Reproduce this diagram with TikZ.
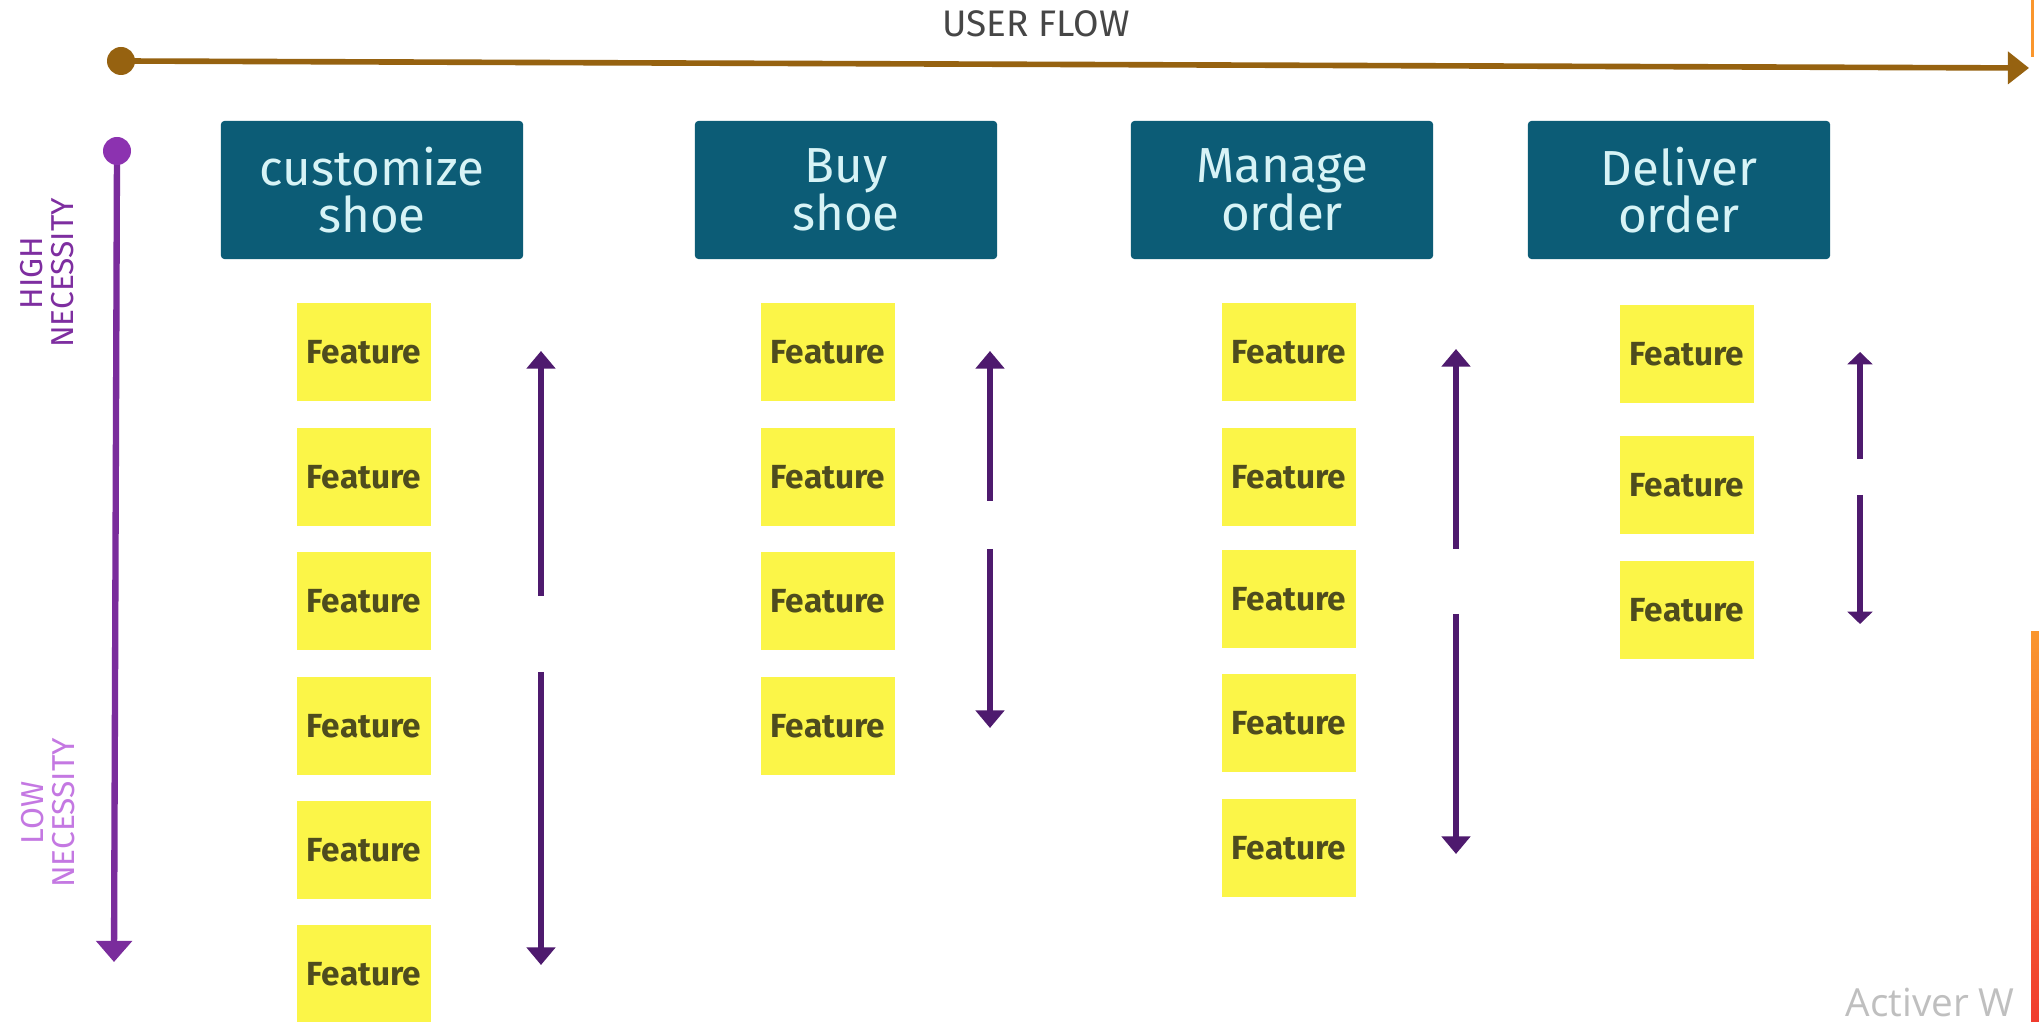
\documentclass[tikz,border=0pt]{standalone}
\usepackage{fontspec}
\setmainfont{Fira Sans}
\newfontfamily\watermarkfont{Open Sans}
\usetikzlibrary{positioning, arrows.meta}

\definecolor{flowbrown}{RGB}{150,98,16}
\definecolor{axispurple}{RGB}{122,44,156}
\definecolor{dotpurple}{RGB}{140,50,176}
\definecolor{arrowpurple}{RGB}{78,26,110}
\definecolor{headteal}{RGB}{12,92,118}
\definecolor{headtext}{RGB}{215,243,246}
\definecolor{noteyellow}{RGB}{251,245,72}
\definecolor{notetext}{RGB}{78,76,30}
\definecolor{highlabel}{RGB}{126,46,160}
\definecolor{lowlabel}{RGB}{196,120,226}
\definecolor{flowtext}{RGB}{70,70,70}
\definecolor{edgeorange}{RGB}{250,150,45}
\definecolor{edgered}{RGB}{240,60,45}

\tikzset{
  activity/.style={fill=headteal, text=headtext, minimum width=3.02cm, minimum height=1.38cm,
    align=center, inner sep=0pt, rounded corners=1pt, font=\fontsize{14}{13.5}\selectfont},
  feature/.style={fill=noteyellow, text=notetext, minimum width=1.34cm, minimum height=0.97cm,
    inner sep=0pt, font=\fontsize{9.5}{9.5}\selectfont\bfseries},
  priority/.style={draw=arrowpurple, line width=1.5pt, -{Triangle[length=5pt,width=8pt]}},
  smallpriority/.style={draw=arrowpurple, line width=1.5pt, -{Triangle[length=3.5pt,width=7pt]}},
  necessity/.style={text=#1, rotate=90, align=center, font=\fontsize{9}{9}\selectfont},
}

\begin{document}
\begin{tikzpicture}[x=0.01cm, y=-0.01cm]
  \clip (0,0) rectangle (2039,1022);
  \fill[white] (0,0) rectangle (2039,1022);

  % user flow axis
  \coordinate (flowstart) at (121,61);
  \coordinate (flowend) at (2029,68);
  \draw[flowbrown, line width=1.6pt, -{Triangle[length=6pt,width=9pt]}] (flowstart) -- (flowend);
  \fill[flowbrown] (flowstart) circle (14);
  \node[text=flowtext, font=\fontsize{10.5}{10.5}\selectfont] (flowlabel) at (1036,24) {USER FLOW};

  % necessity axis
  \coordinate (needtop) at (117,151);
  \coordinate (needbottom) at (114,962);
  \draw[axispurple, line width=1.8pt, -{Triangle[length=6pt,width=10pt]}] (needtop) -- (needbottom);
  \fill[dotpurple] (needtop) circle (14);
  \node[necessity=highlabel] (high) at (47,273) {HIGH\\NECESSITY};
  \node[necessity=lowlabel] (low) at (48,813) {LOW\\NECESSITY};

  % activities
  \node[activity] (customize) at (372,190) {customize\\shoe};
  \node[activity] (buy) at (846,190) {Buy\\shoe};
  \node[activity] (manage) at (1282,190) {Manage\\order};
  \node[activity] (deliver) at (1679,190) {Deliver\\order};

  % features
  \node[feature] (c1) at (364,352) {Feature};
  \node[feature] (c2) at (364,477) {Feature};
  \node[feature] (c3) at (364,601) {Feature};
  \node[feature] (c4) at (364,726) {Feature};
  \node[feature] (c5) at (364,850) {Feature};
  \node[feature] (c6) at (364,974) {Feature};

  \node[feature] (b1) at (828,352) {Feature};
  \node[feature] (b2) at (828,477) {Feature};
  \node[feature] (b3) at (828,601) {Feature};
  \node[feature] (b4) at (828,726) {Feature};

  \node[feature] (m1) at (1289,352) {Feature};
  \node[feature] (m2) at (1289,477) {Feature};
  \node[feature] (m3) at (1289,599) {Feature};
  \node[feature] (m4) at (1289,723) {Feature};
  \node[feature] (m5) at (1289,848) {Feature};

  \node[feature] (d1) at (1687,354) {Feature};
  \node[feature] (d2) at (1687,485) {Feature};
  \node[feature] (d3) at (1687,610) {Feature};

  % priority arrows
  \coordinate (cup) at (541,351);
  \coordinate (cmidA) at (541,596);
  \coordinate (cmidB) at (541,672);
  \coordinate (cdown) at (541,965);
  \draw[priority] (cmidA) -- (cup);
  \draw[priority] (cmidB) -- (cdown);

  \coordinate (bup) at (990,351);
  \coordinate (bmidA) at (990,501);
  \coordinate (bmidB) at (990,549);
  \coordinate (bdown) at (990,728);
  \draw[priority] (bmidA) -- (bup);
  \draw[priority] (bmidB) -- (bdown);

  \coordinate (mup) at (1456,349);
  \coordinate (mmidA) at (1456,549);
  \coordinate (mmidB) at (1456,614);
  \coordinate (mdown) at (1456,854);
  \draw[priority] (mmidA) -- (mup);
  \draw[priority] (mmidB) -- (mdown);

  \coordinate (dup) at (1860,352);
  \coordinate (dmidA) at (1860,459);
  \coordinate (dmidB) at (1860,495);
  \coordinate (ddown) at (1860,624);
  \draw[smallpriority] (dmidA) -- (dup);
  \draw[smallpriority] (dmidB) -- (ddown);

  % slide edge
  \fill[edgeorange] (2031,0) rectangle (2034,57);
  \shade[top color=edgeorange, bottom color=edgered] (2031,632) rectangle (2039,1022);
  \node[anchor=base west, inner sep=0pt, text=black!25, font=\watermarkfont\fontsize{11}{11}\selectfont] (activate) at (1845,1016) {Activer W};
\end{tikzpicture}
\end{document}
